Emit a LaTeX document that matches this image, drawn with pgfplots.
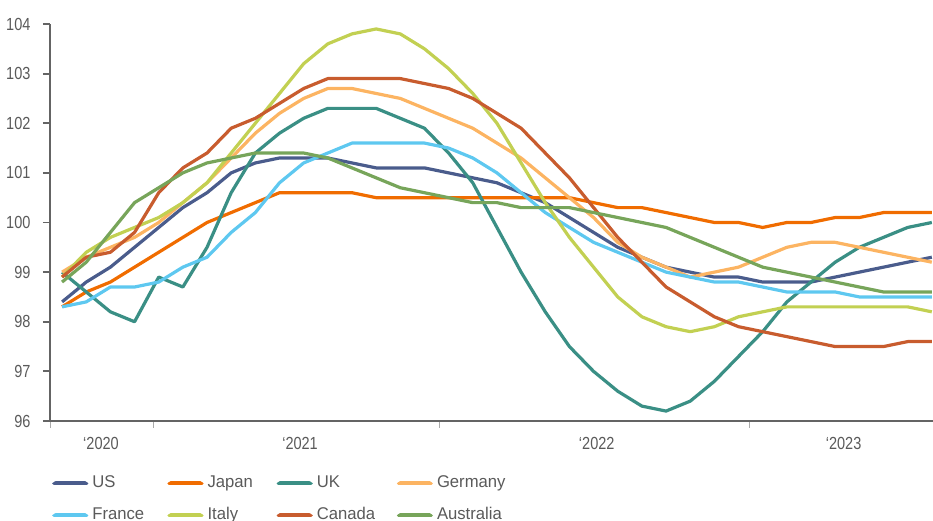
\documentclass[border=0pt]{standalone}
\usepackage{fontspec}
\setmainfont{Liberation Sans}[FakeStretch=0.83]
\newfontfamily\legfont{Liberation Sans}[FakeStretch=0.98]
\usepackage{pgfplots}
\usepackage{pgfplotstable}
\pgfplotsset{compat=1.18}
\definecolor{cUS}{RGB}{74,92,140}
\definecolor{cJapan}{RGB}{240,108,0}
\definecolor{cUK}{RGB}{58,143,133}
\definecolor{cGermany}{RGB}{252,180,98}
\definecolor{cFrance}{RGB}{94,200,240}
\definecolor{cItaly}{RGB}{194,208,82}
\definecolor{cCanada}{RGB}{200,92,46}
\definecolor{cAustralia}{RGB}{119,165,90}
\definecolor{axisgray}{RGB}{100,100,100}
\definecolor{labelgray}{RGB}{90,90,90}
\definecolor{tickgray}{RGB}{170,170,170}

\pgfplotstableread{
i  US    Japan  UK     Germany France Italy  Canada Australia
0  98.4  98.3   99.0   99.0    98.3   98.9   98.9   98.8
1  98.8  98.6   98.6   99.3    98.4   99.4   99.3   99.2
2  99.1  98.8   98.2   99.5    98.7   99.7   99.4   99.8
3  99.5  99.1   98.0   99.7    98.7   99.9   99.8   100.4
4  99.9  99.4   98.9   100.0   98.8   100.1  100.6  100.7
5  100.3 99.7   98.7   100.4   99.1   100.4  101.1  101.0
6  100.6 100.0  99.5   100.8   99.3   100.8  101.4  101.2
7  101.0 100.2  100.6  101.3   99.8   101.4  101.9  101.3
8  101.2 100.4  101.4  101.8   100.2  102.0  102.1  101.4
9  101.3 100.6  101.8  102.2   100.8  102.6  102.4  101.4
10 101.3 100.6  102.1  102.5   101.2  103.2  102.7  101.4
11 101.3 100.6  102.3  102.7   101.4  103.6  102.9  101.3
12 101.2 100.6  102.3  102.7   101.6  103.8  102.9  101.1
13 101.1 100.5  102.3  102.6   101.6  103.9  102.9  100.9
14 101.1 100.5  102.1  102.5   101.6  103.8  102.9  100.7
15 101.1 100.5  101.9  102.3   101.6  103.5  102.8  100.6
16 101.0 100.5  101.4  102.1   101.5  103.1  102.7  100.5
17 100.9 100.5  100.8  101.9   101.3  102.6  102.5  100.4
18 100.8 100.5  99.9   101.6   101.0  102.0  102.2  100.4
19 100.6 100.5  99.0   101.3   100.6  101.2  101.9  100.3
20 100.4 100.5  98.2   100.9   100.2  100.4  101.4  100.3
21 100.1 100.5  97.5   100.5   99.9   99.7   100.9  100.3
22 99.8  100.4  97.0   100.1   99.6   99.1   100.3  100.2
23 99.5  100.3  96.6   99.6    99.4   98.5   99.7   100.1
24 99.3  100.3  96.3   99.3    99.2   98.1   99.2   100.0
25 99.1  100.2  96.2   99.1    99.0   97.9   98.7   99.9
26 99.0  100.1  96.4   98.9    98.9   97.8   98.4   99.7
27 98.9  100.0  96.8   99.0    98.8   97.9   98.1   99.5
28 98.9  100.0  97.3   99.1    98.8   98.1   97.9   99.3
29 98.8  99.9   97.8   99.3    98.7   98.2   97.8   99.1
30 98.8  100.0  98.4   99.5    98.6   98.3   97.7   99.0
31 98.8  100.0  98.8   99.6    98.6   98.3   97.6   98.9
32 98.9  100.1  99.2   99.6    98.6   98.3   97.5   98.8
33 99.0  100.1  99.5   99.5    98.5   98.3   97.5   98.7
34 99.1  100.2  99.7   99.4    98.5   98.3   97.5   98.6
35 99.2  100.2  99.9   99.3    98.5   98.3   97.6   98.6
36 99.3  100.2  100.0  99.2    98.5   98.2   97.6   98.6
}\datatable

\begin{document}
\begin{tikzpicture}
\begin{axis}[
  at={(50pt,100pt)}, anchor=south west,
  scale only axis, width=883pt, height=397pt,
  xmin=-0.5, xmax=36.05, ymin=96, ymax=104,
  axis x line*=bottom, axis y line*=left,
  axis line style={draw=axisgray, line width=1.8pt},
  tick align=outside, major tick length=7pt,
  ytick={96,97,...,104},
  y tick style={draw=axisgray, line width=1.8pt},
  xtick={-0.5,3.765,15.6,28.46}, xticklabels={},
  x tick style={draw=tickgray, line width=0.9pt},
  extra x ticks={1.61,9.85,22.13,32.35},
  extra x tick labels={‘2020,‘2021,‘2022,‘2023},
  extra x tick style={major tick length=0pt, xticklabel style={yshift=-13pt}},
  /pgf/number format/assume math mode=true,
  tick label style={font=\fontsize{17.5}{20}\selectfont, text=labelgray},
  yticklabel style={xshift=-9pt},
  every axis plot/.append style={line width=3.2pt, line join=round, no markers},
  legend columns=4,
  legend cell align=left,
  legend style={at={(axis description cs:0,0)}, anchor=north west,
    xshift=2pt, yshift=-52pt, draw=none, fill=none, inner sep=0pt,
    font=\legfont\fontsize{17}{20}\selectfont, text=labelgray,
    column sep=0pt, row sep=12pt,
    nodes={text height=12.5pt, text depth=3.5pt, inner xsep=0pt, inner ysep=2pt}},
  legend image code/.code={
    \path (0pt,0pt) rectangle (33pt,0pt);
    \draw[#1, line width=4pt, line cap=round] (2pt,0pt) -- (31pt,0pt);},
]
\addplot[cUS] table[x=i, y=US] {\datatable};
\addlegendentry{\makebox[79pt][l]{\hspace{4pt}US}}
\addplot[cJapan] table[x=i, y=Japan] {\datatable};
\addlegendentry{\makebox[73pt][l]{\hspace{4pt}Japan}}
\addplot[cUK] table[x=i, y=UK] {\datatable};
\addlegendentry{\makebox[84pt][l]{\hspace{4pt}UK}}
\addplot[cGermany] table[x=i, y=Germany] {\datatable};
\addlegendentry{\makebox[80pt][l]{\hspace{4pt}Germany}}
\addplot[cFrance] table[x=i, y=France] {\datatable};
\addlegendentry{\makebox[79pt][l]{\hspace{4pt}France}}
\addplot[cItaly] table[x=i, y=Italy] {\datatable};
\addlegendentry{\makebox[73pt][l]{\hspace{4pt}Italy}}
\addplot[cCanada] table[x=i, y=Canada] {\datatable};
\addlegendentry{\makebox[84pt][l]{\hspace{4pt}Canada}}
\addplot[cAustralia] table[x=i, y=Australia] {\datatable};
\addlegendentry{\makebox[80pt][l]{\hspace{4pt}Australia}}
\end{axis}
\pgfresetboundingbox
\useasboundingbox (0pt,0pt) rectangle (933pt,521pt);
\end{tikzpicture}
\end{document}
